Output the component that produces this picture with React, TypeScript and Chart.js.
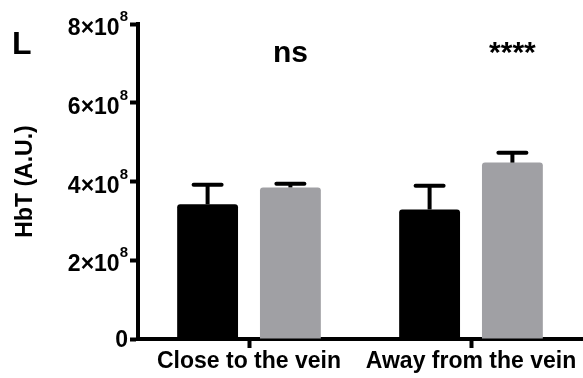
import React, { useEffect, useRef } from 'react';
import { Chart, registerables } from 'chart.js';

Chart.register(...registerables);

// ---- data ----
const categories = ['Close to the vein', 'Away from the vein'];
const blackValues = [3.42e8, 3.29e8];
const blackErrors = [0.5e8, 0.6e8];
const greyValues = [3.85e8, 4.48e8];
const greyErrors = [0.09e8, 0.25e8];
const yTicks = [0, 2e8, 4e8, 6e8, 8e8];
const significance = ['ns', '****'];
const yAxisTitle = 'HbT (A.U.)';
const panelLetter = 'L';

const FONT = "'Liberation Sans', Arial, Helvetica, sans-serif";
const GREY = '#A0A0A4';

const errorBarPlugin = {
  id: 'errorBars',
  afterDatasetsDraw(chart: any) {
    const ctx = chart.ctx;
    const yScale = chart.scales.y;
    const errs = [blackErrors, greyErrors];
    ctx.save();
    ctx.strokeStyle = '#000';
    ctx.lineWidth = 4;
    chart.data.datasets.forEach((ds: any, di: number) => {
      const meta = chart.getDatasetMeta(di);
      meta.data.forEach((el: any, i: number) => {
        const v = ds.data[i];
        const top = yScale.getPixelForValue(v + errs[di][i]);
        ctx.lineCap = 'butt';
        ctx.beginPath();
        ctx.moveTo(el.x, el.y);
        ctx.lineTo(el.x, top);
        ctx.stroke();
        ctx.lineCap = 'round';
        ctx.beginPath();
        ctx.moveTo(el.x - 14, top);
        ctx.lineTo(el.x + 14, top);
        ctx.stroke();
      });
    });
    ctx.restore();
  },
};

const textPlugin = {
  id: 'texts',
  afterDraw(chart: any) {
    const ctx = chart.ctx;
    const yScale = chart.scales.y;
    ctx.save();
    ctx.fillStyle = '#000';
    // y tick labels with superscript exponent
    const right = yScale.right - 8 - 2;
    yTicks.forEach((v) => {
      const py = yScale.getPixelForValue(v);
      ctx.textAlign = 'right';
      ctx.textBaseline = 'alphabetic';
      if (v === 0) {
        ctx.font = `bold 23px ${FONT}`;
        ctx.fillText('0', right, py + 8);
      } else {
        const mant = String(Math.round(v / 1e8));
        ctx.font = `bold 15px ${FONT}`;
        const supW = ctx.measureText('8').width;
        ctx.fillText('8', right, py - 3);
        ctx.font = `bold 23px ${FONT}`;
        ctx.fillText(mant + '×10', right - supW, py + 11);
      }
    });
    // panel letter
    ctx.textAlign = 'left';
    ctx.textBaseline = 'alphabetic';
    ctx.font = `bold 32px ${FONT}`;
    ctx.fillText(panelLetter, 12, 54);
    // significance labels above grey bars
    const meta = chart.getDatasetMeta(1);
    ctx.textAlign = 'center';
    ctx.font = `bold 30px ${FONT}`;
    significance.forEach((s, i) => {
      const el = meta.data[i];
      ctx.fillText(s, el.x, 62);
    });
    ctx.restore();
  },
};

export default function App() {
  const ref = useRef<HTMLCanvasElement | null>(null);
  useEffect(() => {
    if (!ref.current) return;
    const chart = new Chart(ref.current, {
      type: 'bar',
      data: {
        labels: categories,
        datasets: [
          {
            data: blackValues,
            backgroundColor: '#000',
            borderRadius: 3,
            borderSkipped: 'start',
            categoryPercentage: 0.746,
            barPercentage: 0.735,
          },
          {
            data: greyValues,
            backgroundColor: GREY,
            borderRadius: 3,
            borderSkipped: 'start',
            categoryPercentage: 0.746,
            barPercentage: 0.735,
          },
        ],
      },
      options: {
        responsive: false,
        maintainAspectRatio: false,
        animation: false,
        layout: { padding: { top: 24, right: 1, left: 0, bottom: 0 } },
        plugins: { legend: { display: false }, tooltip: { enabled: false } },
        scales: {
          x: {
            grid: {
              offset: false,
              drawOnChartArea: false,
              drawTicks: true,
              tickLength: 9,
              tickWidth: 4,
              tickColor: '#000',
            },
            border: { display: true, color: '#000', width: 4 },
            ticks: {
              color: '#000',
              font: { family: FONT, size: 23, weight: 'bold' },
              padding: 0,
              maxRotation: 0,
              autoSkip: false,
            },
            afterFit: (s: any) => {
              s.height = 39;
            },
          },
          y: {
            min: 0,
            max: 8e8,
            afterBuildTicks: (s: any) => {
              s.ticks = yTicks.map((v) => ({ value: v }));
            },
            grid: {
              drawOnChartArea: false,
              drawTicks: true,
              tickLength: 8,
              tickWidth: 4,
              tickColor: '#000',
            },
            border: { display: true, color: '#000', width: 4 },
            ticks: { display: false },
            title: {
              display: true,
              text: yAxisTitle,
              color: '#000',
              font: { family: FONT, size: 23, weight: 'bold' },
              padding: { top: 12, bottom: 0 },
            },
            afterFit: (s: any) => {
              s.width = 138;
            },
          },
        },
      },
      plugins: [errorBarPlugin, textPlugin],
    } as any);
    return () => chart.destroy();
  }, []);
  return (
    <div style={{ position: 'absolute', left: 0, top: 0, width: 583, height: 378 }}>
      <canvas ref={ref} width={583} height={378} />
    </div>
  );
}
